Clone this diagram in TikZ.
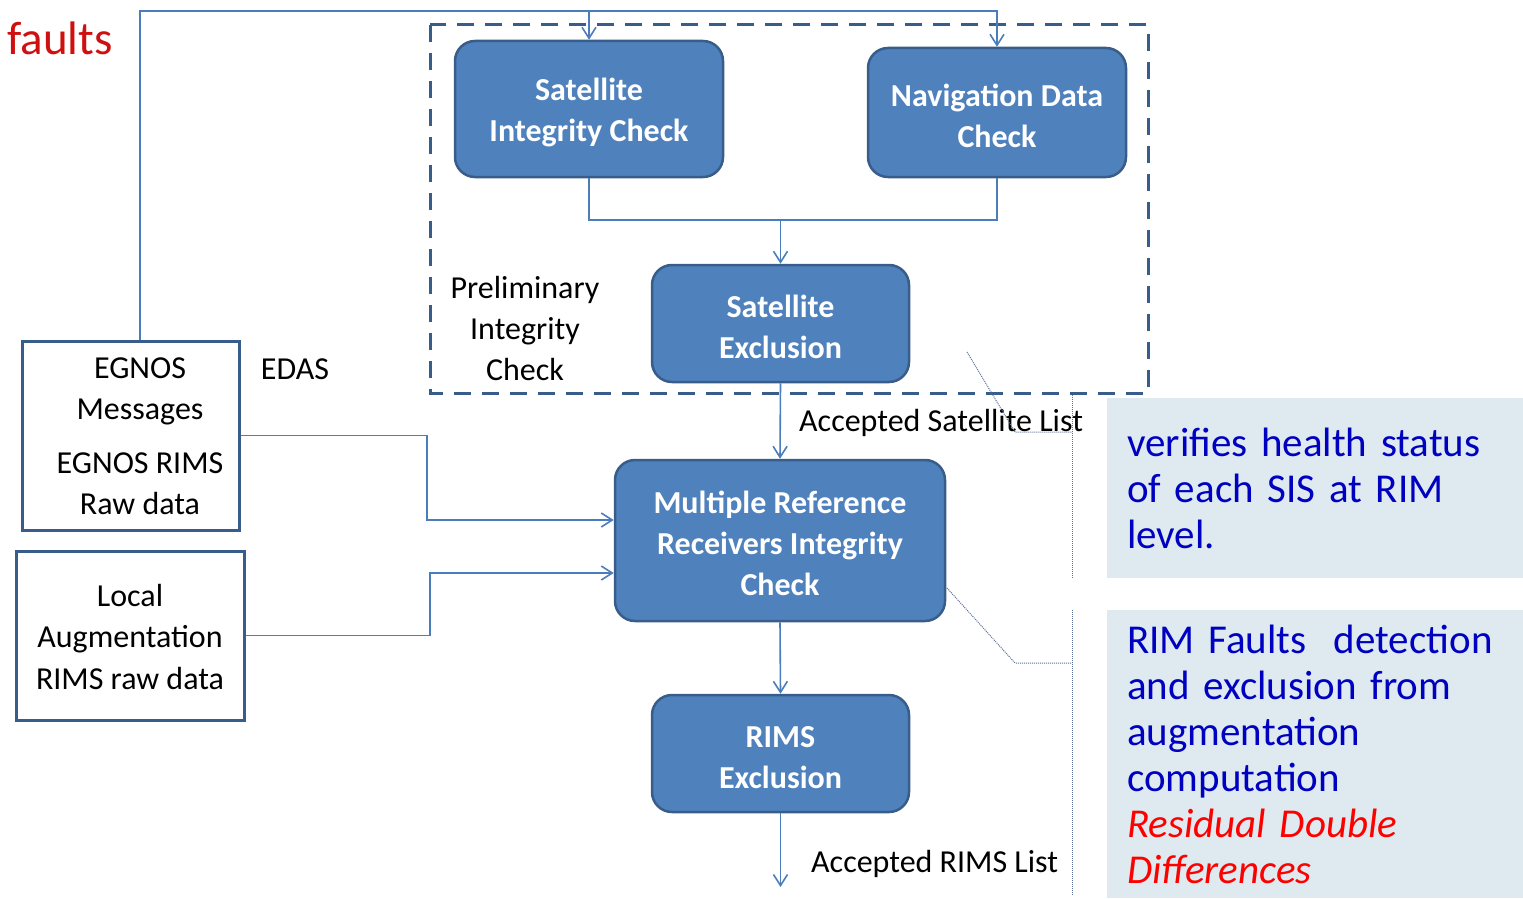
\documentclass[tikz,border=0pt]{standalone}
\usepackage{fontspec}
\setmainfont{Carlito}
\usetikzlibrary{arrows.meta}
\definecolor{boxfill}{HTML}{4F81BD}
\definecolor{boxline}{HTML}{385D8A}
\definecolor{connblue}{HTML}{4A7EBB}
\definecolor{callfill}{HTML}{DEEAF0}
\definecolor{calltext}{HTML}{0000C0}
\definecolor{callline}{HTML}{5A6E96}
\definecolor{faultred}{HTML}{D01010}
\definecolor{rdred}{HTML}{FF0000}
\newcommand{\toplift}{\rule{0pt}{29pt}}
\begin{document}
\begin{tikzpicture}[x=1pt,y=-1pt,
 proc/.style={draw=boxline, line width=2.5pt, fill=boxfill, rounded corners=20pt, text=white, font=\fontsize{32}{41}\selectfont\bfseries, align=center, inner sep=0pt},
 src/.style={draw=boxline, line width=3pt, fill=white, inner sep=0pt},
 lbl/.style={font=\fontsize{32}{41}\selectfont, inner sep=0pt, text height=28pt, text depth=7pt},
 mlbl/.style={font=\fontsize{32}{41}\selectfont, align=center, inner sep=0pt},
 conn/.style={draw=connblue, line width=1.6pt},
 arr/.style={conn, -{Straight Barb[length=11pt,width=14pt]}},
 callout/.style={fill=callfill, inner xsep=20pt, inner ysep=0pt, text width=376pt, align=left, text=calltext, font=\fontsize{41}{46}\selectfont},
 calline/.style={draw=callline, line width=1pt, densely dotted}
]
\useasboundingbox (0,0) rectangle (1523,899);

% group frame
\draw[boxline, line width=3pt, dash pattern=on 17pt off 11pt] (430,25) rectangle (1148,393);

% process boxes
\node[proc, minimum width=268pt, minimum height=136pt] (sic) at (589,109) {\toplift Satellite\\Integrity Check};
\node[proc, minimum width=258pt, minimum height=129pt] (ndc) at (997,112.5) {\toplift Navigation Data\\Check};
\node[proc, minimum width=257pt, minimum height=117pt] (se) at (780.5,323.5) {\toplift Satellite\\Exclusion};
\node[proc, minimum width=330pt, minimum height=161pt] (mr) at (780,540.5) {\toplift Multiple Reference\\Receivers Integrity\\Check};
\node[proc, minimum width=257pt, minimum height=117pt] (rx) at (780.5,753.5) {\toplift RIMS\\Exclusion};

% source boxes
\node[src, minimum width=217pt, minimum height=189pt] (eg) at (130.5,435.5) {};
\node[mlbl] (egt) at (140,436) {EGNOS\\Messages\\[13pt]EGNOS RIMS\\Raw data};
\node[src, minimum width=228pt, minimum height=169pt] (la) at (130,635.5) {};
\node[mlbl] (lat) at (130,637) {Local\\Augmentation\\RIMS raw data};

% connectors
\coordinate (tr) at (997,11);
\coordinate (mid) at (780,220);
\coordinate (j1) at (427,520);
\coordinate (j2) at (430,573);
\coordinate (out) at (780.5,887);
\draw[arr] ([xshift=9.5pt]eg.north) |- (tr) -- (ndc.north);
\draw[arr] (sic.north |- tr) -- (sic.north);
\draw[conn] (sic.south) |- (ndc.south |- mid) -- (ndc.south);
\draw[arr] (se.north |- mid) -- (se.north);
\draw[arr] (se.south) -- (mr.north);
\draw[arr] (eg.east) -| (j1) -- (j1 -| mr.west);
\draw[arr] (la.east) -| (j2) -- (j2 -| mr.west);
\draw[arr] (mr.south) -- (rx.north);
\draw[arr] (rx.south) -- (out);

% labels
\node[font=\fontsize{47}{50}\selectfont, text=faultred, anchor=west, inner sep=0pt] (flt) at (7,38) {faults};
\node[lbl] (edas) at (295,369) {EDAS};
\node[mlbl] (pic) at (525,328) {Preliminary\\Integrity\\Check};
\node[lbl, anchor=west] (asl) at (799,421) {Accepted Satellite List};
\node[lbl, anchor=west] (arl) at (811,862) {Accepted RIMS List};

% callouts
\node[callout, minimum height=180pt, anchor=north west] (c1) at (1107,398) {verifies health status\\of each SIS at RIM\\level.};
\node[callout, minimum height=288pt, anchor=north west] (c2) at (1107,610) {RIM Faults\ \ detection\\and exclusion from\\augmentation\\computation\\{\color{rdred}\itshape Residual Double}\\{\color{rdred}\itshape Differences}};

\coordinate (k1) at (967,352);
\coordinate (k2) at (1015,432);
\coordinate (k3) at (1072,432);
\coordinate (k4) at (947,588);
\coordinate (k5) at (1015,663);
\coordinate (k6) at (1072,663);
\draw[calline] (k1) -- (k2) -- (k3);
\draw[calline] (1072,395) -- (1072,578);
\draw[calline] (k4) -- (k5) -- (k6);
\draw[calline] (1072,610) -- (1072,895);
\end{tikzpicture}
\end{document}
